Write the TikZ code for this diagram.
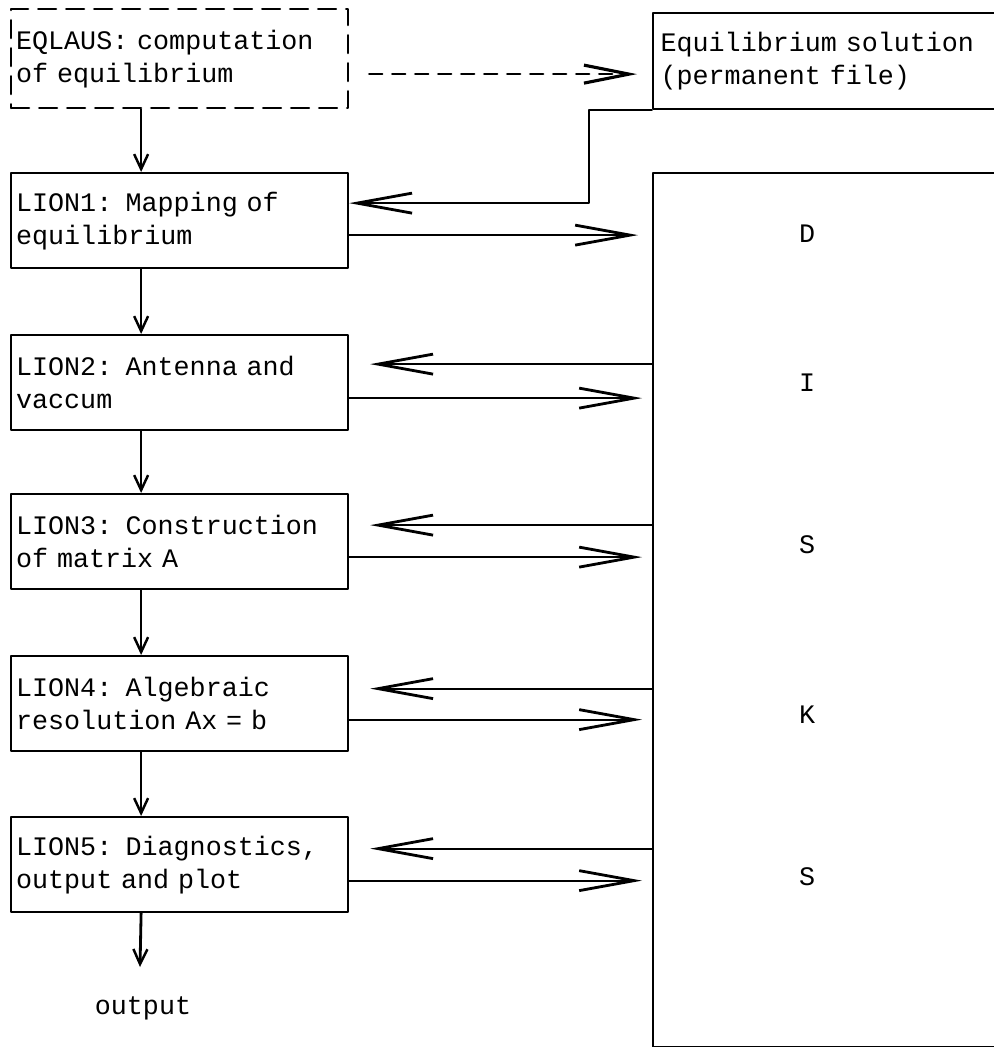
\documentclass[tikz,border=0pt]{standalone}
\usepackage{fontspec}
\setmonofont{Liberation Mono}
\usetikzlibrary{arrows.meta}
\newcommand{\lionfont}{\ttfamily\fontsize{15.2}{18.8}\selectfont}
\tikzset{
  prog/.style={draw, line width=1.3pt, anchor=north west, minimum width=6.74cm,
    minimum height=1.9cm, text width=6.54cm, inner xsep=0.1cm, align=left, font=\lionfont},
  store/.style={draw, line width=1.3pt, anchor=north west, minimum width=8cm,
    text width=7.7cm, inner xsep=0.15cm, align=left, font=\lionfont},
  flow/.style={line width=1pt, -{Straight Barb[length=0.3cm, width=0.28cm, line width=1.4pt]}},
  dataflow/.style={line width=1pt, -{Straight Barb[length=1.1cm, width=0.4cm, line width=1.6pt]}},
  letter/.style={font=\lionfont}
}
\begin{document}
\begin{tikzpicture}[x=0.02cm, y=-0.02cm, line cap=round, line join=round]
  \useasboundingbox (0,0) rectangle (993,1047);

  % program boxes
  \node[prog, dashed, dash pattern=on 0.36cm off 0.2cm, minimum height=1.98cm] (eqlaus) at (10,8)
    {EQLAUS: computation\\of equilibrium};
  \node[prog] (lion1) at (10,172) {LION1: Mapping of\\equilibrium};
  \node[prog] (lion2) at (10,334) {LION2: Antenna and\\vaccum};
  \node[prog] (lion3) at (10,493) {LION3: Construction\\of matrix A};
  \node[prog] (lion4) at (10,655) {LION4: Algebraic\\resolution Ax = b};
  \node[prog] (lion5) at (10,816) {LION5: Diagnostics,\\output and plot};

  % files
  \node[store, minimum height=1.92cm] (file) at (652,12) {Equilibrium solution\\(permanent file)\\[0.2cm]};
  \node[store, minimum height=17.48cm] (disk) at (652,172) {};
  \node[letter] (d) at (807,234) {D};
  \node[letter] (i) at (807,383) {I};
  \node[letter] (s1) at (807,545) {S};
  \node[letter] (k) at (807,715) {K};
  \node[letter] (s2) at (807,877) {S};

  % main sequence
  \draw[flow] ([xshift=-0.77cm]eqlaus.south) -- ([xshift=-0.77cm]lion1.north);
  \foreach \a/\b in {lion1/lion2, lion2/lion3, lion3/lion4, lion4/lion5}
    \draw[flow] ([xshift=-0.77cm]\a.south) -- ([xshift=-0.77cm]\b.north);
  \coordinate (outend) at (140,967);
  \node[font=\lionfont] (out) at (143,1008) {output};
  \draw[flow, line width=1.6pt] ([xshift=-0.77cm]lion5.south) -- (outend);

  % data exchange
  \draw[dataflow, line width=1.4pt, dash pattern=on 0.26cm off 0.2cm,
    -{Straight Barb[length=0.9cm, width=0.36cm, line width=1.8pt]}, shorten >=0.3cm]
    ([yshift=-0.31cm, xshift=0.4cm]eqlaus.east) -- ([yshift=-0.31cm]eqlaus.east -| file.west);
  \draw[dataflow] (file.south west) -- ++(-63,0) |- ([yshift=0.35cm]lion1.east);
  \draw[dataflow, shorten >=0.28cm] ([yshift=-0.29cm]lion1.east) -- ([yshift=-0.29cm]lion1.east -| disk.west);
  \foreach \n/\up/\dn in {2/0.37/0.31, 3/0.33/0.31, 4/0.30/0.32, 5/0.32/0.32} {
    \draw[dataflow] ([yshift=\up cm]lion\n.east -| disk.west) -- ([yshift=\up cm, xshift=0.42cm]lion\n.east);
    \draw[dataflow, shorten >=0.2cm] ([yshift=-\dn cm]lion\n.east) -- ([yshift=-\dn cm]lion\n.east -| disk.west);
  }
\end{tikzpicture}
\end{document}
